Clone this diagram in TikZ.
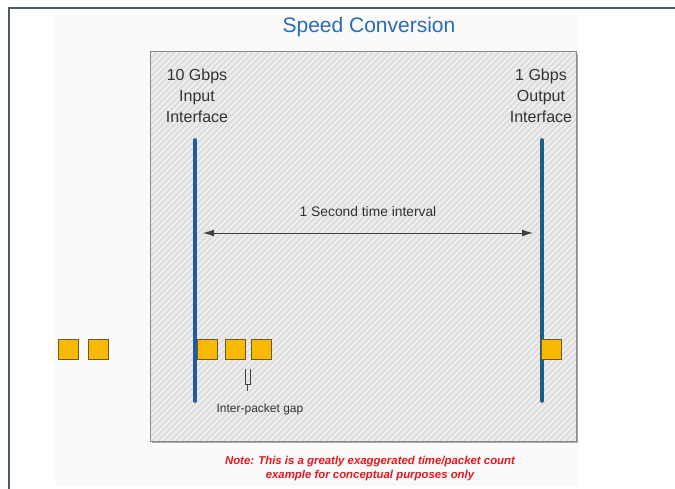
\documentclass[tikz,border=0pt]{standalone}
\usepackage{fontspec}
\setmainfont{Liberation Sans}
\usetikzlibrary{arrows.meta}
\definecolor{framec}{HTML}{4A5A68}
\definecolor{panelc}{HTML}{FAFAFA}
\definecolor{boxfill}{HTML}{EDEDED}
\definecolor{hatchc}{HTML}{D6D6D6}
\definecolor{boxedge}{HTML}{8A8A8A}
\definecolor{titlec}{HTML}{2A6BB5}
\definecolor{inblue}{HTML}{1D5BA6}
\definecolor{outblue}{HTML}{1B5E80}
\definecolor{pktfill}{HTML}{F7BA00}
\definecolor{pktedge}{HTML}{6E5A2A}
\definecolor{notec}{HTML}{E4181E}
\tikzset{
  pkt/.style={draw=pktedge, line width=0.9pt, fill=pktfill, minimum size=20pt, inner sep=0pt},
  iface/.style={line width=3.6pt, line cap=round},
  lbl/.style={align=center, font=\fontsize{16}{21}\selectfont, text=black!80, inner sep=0pt},
}
\begin{document}
\begin{tikzpicture}[x=1pt, y=-1pt]
\useasboundingbox (0,0) rectangle (675,489);
\fill[white] (0,0) rectangle (675,489);
% outer frame (top and left edges)
\draw[framec, line width=2pt] (9,489) -- (9,8) -- (675,8);
% faint background panel
\fill[panelc] (55,13) rectangle (578,486);
% title
\node[font=\fontsize{21}{24}\selectfont, text=titlec] (title) at (369,27) {Speed Conversion};
% hatched box with soft shadow
\fill[black!35] (152,54) rectangle (578,443);
\fill[boxfill] (150,52) rectangle (576,441);
\begin{scope}
  \clip (150,52) rectangle (576,441);
  \foreach \k in {-400,-394,...,440} {
    \draw[hatchc, line width=1.3pt] (150+\k,441) -- (150+\k+400,41);
  }
\end{scope}
\draw[boxedge, line width=1pt] (150,52) rectangle (576,441);
% interface labels
\node[lbl] (inlbl) at (197,96) {10 Gbps\\Input\\Interface};
\node[lbl] (outlbl) at (541,96) {1 Gbps\\Output\\Interface};
% interface lines
\coordinate (intop) at (195,140);
\coordinate (inbot) at (195,401);
\coordinate (outtop) at (542,140);
\coordinate (outbot) at (542,401);
\draw[iface, inblue] (intop) -- (inbot);
\draw[iface, outblue] (outtop) -- (outbot);
% time interval arrow
\coordinate (al) at (203,233);
\coordinate (ar) at (533,233);
\draw[black!75, line width=0.9pt, {Latex[length=11pt,width=7pt]}-{Latex[length=11pt,width=7pt]}] (al) -- (ar);
\node[font=\fontsize{13.8}{16}\selectfont, text=black!80] (tlbl) at (368,212) {1 Second time interval};
% packets
\node[pkt] (p1) at (68,349) {};
\node[pkt] (p2) at (98,349) {};
\node[pkt] (p3) at (207,349) {};
\node[pkt] (p4) at (235,349) {};
\node[pkt] (p5) at (261,349) {};
\node[pkt] (p6) at (551,349) {};
% inter-packet gap marker
\coordinate (g1) at (245,369);
\coordinate (g2) at (250,369);
\draw[black!75, line width=0.9pt] (g1) -- (245,384) -- (250,384) -- (g2);
\draw[black!75, line width=0.9pt] (247.5,384) -- (247.5,391);
\node[font=\fontsize{12}{14}\selectfont, text=black!80] (glbl) at (260,409) {Inter-packet gap};
% note
\node[align=center, font=\fontsize{11.4}{14}\selectfont\bfseries\itshape, text=notec] (note) at (370,469) {Note: This is a greatly exaggerated time/packet count\\example for conceptual purposes only};
\end{tikzpicture}
\end{document}
